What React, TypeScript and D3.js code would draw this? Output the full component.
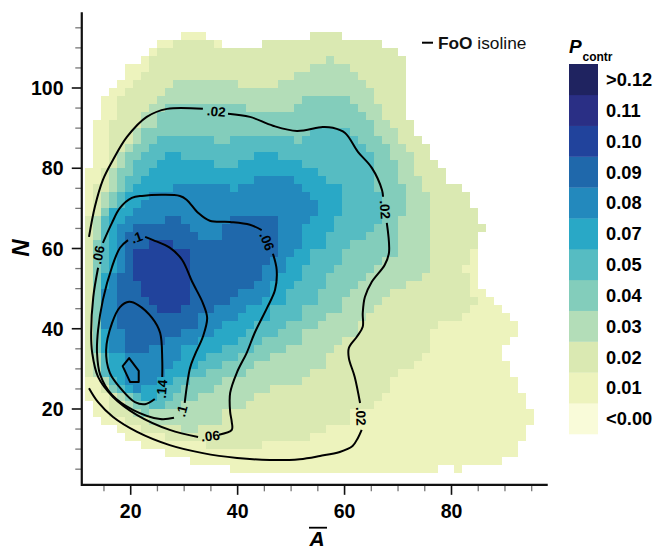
import * as d3 from "d3";

// colour classes, index 0 is the lowest class, drawn bottom of the legend
const classLabels = ["<0.00", "0.01", "0.02", "0.03", "0.04", "0.05", "0.07", "0.08", "0.09", "0.10", "0.11", ">0.12"];
const classColors = ["#f9fbd9", "#edf3bd", "#dae9b2", "#b3ddb8", "#83cdbb", "#56bcc2", "#29a8c6", "#2389bd", "#1f68ab", "#21439c", "#2a2f85", "#1f2360"];

const xTicks = [20, 40, 60, 80];
const yTicks = [20, 40, 60, 80, 100];
const xMinor = [15, 25, 30, 35, 45, 50, 55, 65, 70, 75, 85, 90, 95];
const yMinor = [5, 10, 15, 25, 30, 35, 45, 50, 55, 65, 70, 75, 85, 90, 95, 105, 110, 115];

// heat map rows from N=114 downwards: class, end column, class, end column... (-1 = no data)
const rowRuns: number[][] = [
  [-1, 12, 1, 15, -1, 28, 2, 32],
  [-1, 9, 1, 11, 2, 16, 1, 17, -1, 22, 2, 37],
  [-1, 8, 1, 9, 2, 39],
  [-1, 7, 1, 8, 2, 30, 3, 31, 2, 40],
  [-1, 5, 1, 8, 2, 28, 3, 33, 2, 40],
  [-1, 5, 1, 7, 2, 26, 3, 34, 2, 40],
  [-1, 4, 1, 6, 2, 11, 3, 19, 2, 24, 3, 35, 2, 40],
  [-1, 3, 1, 5, 2, 10, 3, 36, 2, 40],
  [-1, 2, 1, 4, 2, 9, 3, 27, 4, 33, 3, 36, 2, 40],
  [-1, 2, 1, 4, 2, 8, 3, 10, 4, 20, 3, 26, 4, 34, 3, 37, 2, 40],
  [-1, 2, 1, 4, 2, 7, 3, 9, 4, 35, 3, 37, 2, 40],
  [-1, 1, 1, 3, 2, 7, 3, 9, 4, 36, 3, 38, 2, 41],
  [-1, 1, 1, 3, 2, 6, 3, 7, 4, 28, 5, 33, 4, 36, 3, 39, 2, 41],
  [-1, 1, 1, 3, 2, 6, 3, 7, 4, 9, 5, 16, 4, 18, 5, 26, 4, 27, 5, 34, 4, 37, 3, 39, 2, 42],
  [-1, 1, 1, 3, 2, 5, 3, 6, 4, 8, 5, 35, 4, 38, 3, 40, 2, 43],
  [-1, 1, 1, 3, 2, 4, 3, 5, 4, 7, 5, 10, 6, 12, 5, 21, 6, 24, 5, 36, 4, 38, 3, 41, 2, 43],
  [-1, 1, 1, 3, 2, 4, 3, 5, 4, 6, 5, 9, 6, 16, 5, 19, 6, 27, 5, 36, 4, 39, 3, 41, 2, 44],
  [1, 2, 2, 3, 3, 4, 4, 6, 5, 8, 6, 29, 5, 36, 4, 39, 3, 41, 2, 45],
  [1, 2, 2, 3, 3, 4, 4, 5, 5, 7, 6, 21, 7, 26, 6, 30, 5, 36, 4, 39, 3, 42, 2, 45],
  [1, 1, 2, 3, 3, 4, 4, 5, 5, 6, 6, 11, 7, 18, 6, 19, 7, 27, 6, 32, 5, 36, 4, 40, 3, 42, 2, 47],
  [1, 1, 2, 2, 3, 3, 4, 4, 5, 5, 6, 8, 7, 28, 6, 32, 5, 37, 4, 40, 3, 43, 2, 48],
  [1, 1, 2, 2, 3, 3, 4, 4, 5, 5, 6, 7, 7, 29, 6, 32, 5, 37, 4, 40, 3, 43, 2, 48],
  [1, 1, 2, 2, 4, 3, 6, 6, 7, 29, 6, 32, 5, 37, 4, 40, 3, 43, 2, 49],
  [2, 1, 3, 2, 5, 3, 6, 5, 7, 10, 8, 12, 7, 18, 8, 24, 7, 28, 6, 31, 5, 37, 4, 39, 3, 43, 2, 49],
  [2, 1, 3, 2, 5, 3, 6, 4, 7, 6, 8, 13, 7, 17, 8, 24, 7, 27, 6, 31, 5, 36, 4, 39, 3, 43, 2, 50],
  [2, 1, 3, 2, 5, 3, 6, 4, 7, 5, 8, 14, 7, 17, 8, 24, 7, 27, 6, 30, 5, 35, 4, 39, 3, 43, 2, 49],
  [2, 1, 4, 2, 5, 3, 6, 4, 7, 5, 8, 8, 9, 11, 8, 24, 7, 27, 6, 30, 5, 33, 4, 39, 3, 43, 2, 49],
  [2, 1, 4, 2, 5, 3, 6, 4, 7, 5, 8, 6, 9, 13, 8, 24, 7, 26, 6, 28, 5, 32, 4, 39, 3, 43, 2, 48, 1, 49],
  [2, 1, 4, 2, 5, 3, 6, 4, 7, 5, 8, 6, 9, 13, 8, 23, 7, 25, 6, 28, 5, 32, 4, 37, 3, 43, 2, 48, 1, 49],
  [2, 1, 4, 2, 5, 3, 6, 4, 7, 5, 8, 6, 9, 13, 8, 22, 7, 25, 6, 27, 5, 31, 4, 36, 3, 43, 2, 47, 1, 49],
  [2, 1, 4, 2, 6, 3, 7, 4, 8, 6, 9, 13, 8, 22, 7, 24, 6, 27, 5, 30, 4, 35, 3, 42, 2, 48, 1, 49],
  [2, 1, 4, 2, 6, 3, 7, 4, 8, 7, 9, 13, 8, 21, 7, 23, 6, 26, 5, 30, 4, 34, 3, 40, 2, 48, 1, 49],
  [2, 1, 4, 2, 7, 4, 8, 7, 9, 13, 8, 19, 7, 23, 6, 25, 5, 29, 4, 33, 3, 38, 2, 48, 1, 50],
  [2, 1, 4, 2, 7, 4, 8, 8, 9, 13, 8, 18, 7, 22, 6, 25, 5, 29, 4, 32, 3, 37, 2, 49, 1, 51],
  [2, 1, 4, 2, 7, 4, 8, 9, 9, 12, 8, 16, 7, 20, 6, 23, 5, 27, 4, 32, 3, 36, 2, 48, 1, 52],
  [2, 1, 4, 2, 7, 4, 8, 14, 7, 19, 6, 23, 5, 27, 4, 30, 3, 35, 2, 47, 1, 53],
  [2, 1, 4, 2, 7, 4, 8, 14, 7, 17, 6, 21, 5, 25, 4, 29, 3, 34, 2, 44, 1, 54],
  [2, 1, 4, 2, 6, 3, 7, 5, 8, 12, 7, 16, 6, 20, 5, 24, 4, 27, 3, 34, 2, 43, 1, 54],
  [2, 1, 4, 2, 6, 3, 7, 5, 8, 10, 7, 14, 6, 19, 5, 22, 4, 27, 3, 32, 2, 43, 1, 53],
  [2, 1, 4, 2, 6, 3, 7, 5, 8, 8, 7, 12, 6, 17, 5, 21, 4, 25, 3, 31, 2, 43, 1, 52],
  [2, 1, 3, 2, 5, 3, 6, 5, 7, 12, 6, 15, 5, 19, 4, 23, 3, 30, 2, 42, 1, 52],
  [2, 1, 3, 2, 5, 3, 6, 5, 7, 11, 6, 14, 5, 17, 4, 21, 3, 30, 2, 41, 1, 53],
  [2, 1, 3, 2, 5, 3, 6, 5, 7, 10, 6, 13, 5, 15, 4, 20, 3, 28, 2, 39, 1, 53],
  [1, 2, 3, 3, 5, 4, 6, 5, 7, 9, 6, 11, 5, 13, 4, 17, 3, 27, 2, 38, 1, 54],
  [1, 2, 2, 3, 4, 4, 5, 5, 6, 6, 7, 7, 6, 10, 5, 12, 4, 16, 3, 23, 2, 38, 1, 54],
  [1, 3, 2, 4, 3, 5, 4, 6, 5, 7, 6, 9, 5, 11, 4, 14, 3, 21, 2, 37, 1, 55],
  [-1, 1, 1, 3, 2, 5, 3, 6, 4, 8, 5, 10, 4, 12, 3, 20, 2, 36, 1, 55],
  [-1, 1, 1, 3, 2, 6, 3, 7, 4, 8, 3, 17, 2, 33, 1, 56],
  [-1, 2, 1, 5, 2, 8, 3, 17, 2, 33, 1, 56],
  [-1, 4, 1, 7, 2, 12, 3, 14, 2, 30, 1, 55],
  [-1, 5, 1, 10, 2, 28, 1, 55],
  [-1, 7, 1, 15, 2, 22, 1, 54],
  [-1, 10, 1, 54],
  [-1, 13, 1, 52],
  [-1, 18, 1, 44, -1, 46, 1, 47],
];

// FoO isolines, [A, N], broken where a label sits
const iso02: [number, number][][] = [
  [[12.2, 62.9], [13.3, 70.4], [14.8, 77.1], [16.7, 82.1], [19.3, 87.8], [23, 92.8], [26.8, 94.8], [33.5, 94.8]],
  [[38.2, 93.6], [42.3, 92.8], [46.6, 90.6], [51.1, 89.3], [55.9, 90.3], [57.8, 90.1], [60.1, 88.8], [62.5, 84.1], [65.1, 80.1], [67, 74.6], [67.2, 72.9]],
  [[67.9, 66.4], [68.3, 58.9], [67.5, 55.9], [65.1, 51.7], [63.8, 47.9], [63.4, 43.9], [63.4, 40.5], [62.3, 38], [60.8, 35.2], [60.8, 32.7], [61.9, 28], [62.9, 21.5]],
  [[63.2, 14.8], [62.5, 12.8], [61.5, 10.8], [59.1, 9.3], [55.4, 8.3], [51.6, 7.5], [46, 7.3], [39.9, 7.8], [33.5, 9], [27.3, 11], [21.2, 14.3], [16.7, 18], [13.9, 21.7], [12.2, 25.2]],
];
const iso06: [number, number][][] = [
  [[14.8, 61.4], [16.5, 66.4], [18, 70.1], [20.2, 72.6], [22.1, 73.1], [29.2, 73.1], [30.5, 72.1], [32.6, 68.9], [34.8, 66.9], [38.6, 66.6], [42.3, 65.9], [44.5, 64.6]],
  [[46.6, 58.7], [47.3, 54.7], [47, 49.7], [45.5, 45.2], [43.2, 39], [41.7, 34], [39.9, 29.2], [38.6, 24], [38.6, 19.3], [38.9, 16.8], [38.9, 14.8], [36.5, 13.6]],
  [[32.6, 13], [27.3, 14.8], [21.2, 18.5], [16.7, 23], [13.9, 28], [12.8, 34], [12.6, 39], [13, 47.9], [13.9, 55.2]],
];
const iso10: [number, number][][] = [
  [[22.7, 62.9], [24.2, 62.1], [27.3, 60.2], [29.6, 57.2], [31.5, 51.7], [33.5, 46.4], [34.3, 42.7], [33.5, 38], [32, 33.5], [31.1, 30.2], [30.1, 21.5]],
  [[28.1, 17.8], [25.5, 17.5], [20.4, 19.8], [16.5, 23.5], [14.3, 28.5], [13.7, 34], [13.9, 39.7], [14.8, 47.2], [16.5, 55.4], [18, 60.2], [19.5, 62.1]],
];
const iso14: [number, number][][] = [
  [[25.9, 28], [25.9, 32.2], [25.5, 39], [24, 42.7], [21.4, 45.9], [19.7, 46.7], [18, 45.4], [16.5, 41.4], [15.4, 34.7], [16.1, 29], [18.4, 24.7], [20.8, 21.7], [22.7, 21.2], [24.5, 22.5]],
];
const isoInner: [number, number][] = [[19.7, 32.7], [21.5, 29.5], [21.5, 26.7], [19.9, 26.7], [18.5, 30.7]];

const isoLabels: { text: string; a: number; n: number; rot: number }[] = [
  { text: ".02", a: 36, n: 94.2, rot: 5 },
  { text: ".02", a: 67.6, n: 69.7, rot: 87 },
  { text: ".02", a: 63.1, n: 18.2, rot: 88 },
  { text: ".06", a: 13.9, n: 58.4, rot: -78 },
  { text: ".06", a: 45.5, n: 61.8, rot: 68 },
  { text: ".06", a: 34.9, n: 13.3, rot: -5 },
  { text: ".1", a: 21.1, n: 62.8, rot: -20 },
  { text: ".1", a: 29.5, n: 19.5, rot: -75 },
  { text: ".14", a: 25.8, n: 25, rot: -85 },
];

const W = 655;
const H = 546;

export default function App() {
  const x = d3.scaleLinear().domain([20, 80]).range([130.7, 451.5]);
  const y = d3.scaleLinear().domain([20, 100]).range([409, 88]);
  const colEdge = (c: number) => x(11.5 + 1.5 * c);
  const rowEdge = (r: number) => y(114 - 2 * r);

  const line = d3.line<[number, number]>().x((d) => x(d[0])).y((d) => y(d[1])).curve(d3.curveCatmullRom.alpha(0.5));
  const closed = d3.line<[number, number]>().x((d) => x(d[0])).y((d) => y(d[1])).curve(d3.curveLinearClosed);

  const cells: JSX.Element[] = [];
  rowRuns.forEach((runs, r) => {
    let start = 0;
    for (let i = 0; i < runs.length; i += 2) {
      const end = runs[i + 1];
      if (runs[i] >= 0) {
        cells.push(
          <rect key={r + "-" + i} x={colEdge(start)} y={rowEdge(r)} width={colEdge(end) - colEdge(start)} height={rowEdge(r + 1) - rowEdge(r)} fill={classColors[runs[i]]} />
        );
      }
      start = end;
    }
  });

  const left = x(10.85);
  const right = x(98);
  const top = y(118.9);
  const bottom = y(1.1);

  const legend = d3.scaleBand<number>().domain(d3.range(12)).range([64, 434]);
  const font = "'Liberation Sans', Arial, sans-serif";

  return (
    <svg width={W} height={H} style={{ position: "absolute", left: 0, top: 0 }} fontFamily={font}>
      <g shapeRendering="crispEdges">{cells}</g>

      <g fill="none" stroke="#000" strokeWidth={2} strokeLinecap="butt">
        {[...iso02, ...iso06, ...iso10, ...iso14].map((seg, i) => (
          <path key={i} d={line(seg) || ""} />
        ))}
        <path d={closed(isoInner) || ""} strokeLinejoin="round" />
      </g>
      {isoLabels.map((l, i) => (
        <text key={i} transform={`translate(${x(l.a)},${y(l.n)}) rotate(${l.rot})`} textAnchor="middle" dy="0.36em" fontSize={13.5} fontWeight="bold" fill="#000">
          {l.text}
        </text>
      ))}

      {/* axes */}
      <g stroke="#777" strokeWidth={1.3}>
        {xMinor.map((t) => (
          <line key={t} x1={x(t)} x2={x(t)} y1={bottom} y2={bottom + 6.5} />
        ))}
        {yMinor.map((t) => (
          <line key={t} x1={left} x2={left - 6.5} y1={y(t)} y2={y(t)} />
        ))}
      </g>
      <g stroke="#111" strokeWidth={1.6}>
        {xTicks.map((t) => (
          <line key={t} x1={x(t)} x2={x(t)} y1={bottom} y2={bottom + 10} />
        ))}
        {yTicks.map((t) => (
          <line key={t} x1={left} x2={left - 10} y1={y(t)} y2={y(t)} />
        ))}
      </g>
      <path d={`M${left},${top}V${bottom}H${right}`} fill="none" stroke="#111" strokeWidth={2.2} />

      <g fontSize={19.5} fontWeight="bold" fill="#000">
        {xTicks.map((t) => (
          <text key={t} x={x(t)} y={518} textAnchor="middle">{t}</text>
        ))}
        {yTicks.map((t) => (
          <text key={t} x={63.5} y={y(t) + 7} textAnchor="end">{t}</text>
        ))}
      </g>

      <text x={317} y={547} textAnchor="middle" fontSize={22} fontWeight="bold" fontStyle="italic">A</text>
      <line x1={309} x2={327} y1={527.7} y2={527.7} stroke="#000" strokeWidth={1.8} />
      <text transform="translate(29,248) rotate(-90)" textAnchor="middle" fontSize={24} fontWeight="bold" fontStyle="italic">N</text>

      {/* isoline key */}
      <line x1={422} x2={433} y1={42.7} y2={42.7} stroke="#000" strokeWidth={2} />
      <text x={438} y={49} fontSize={17.3} fill="#111">
        <tspan fontWeight="bold">FoO</tspan> isoline
      </text>

      {/* colour legend */}
      <text x={569} y={52.7} fontSize={19} fontWeight="bold" fontStyle="italic">P</text>
      <text x={582.5} y={60.5} fontSize={12} fontWeight="bold">contr</text>
      {classLabels.map((label, i) => {
        const row = 11 - i;
        return (
          <g key={label}>
            <rect x={569} y={legend(row)} width={29} height={legend.bandwidth() + 0.3} fill={classColors[i]} />
            <text x={606} y={(legend(row) || 0) + legend.bandwidth() / 2 + 6.6} fontSize={18.3} fontWeight="bold" fill="#000">{label}</text>
          </g>
        );
      })}
    </svg>
  );
}
